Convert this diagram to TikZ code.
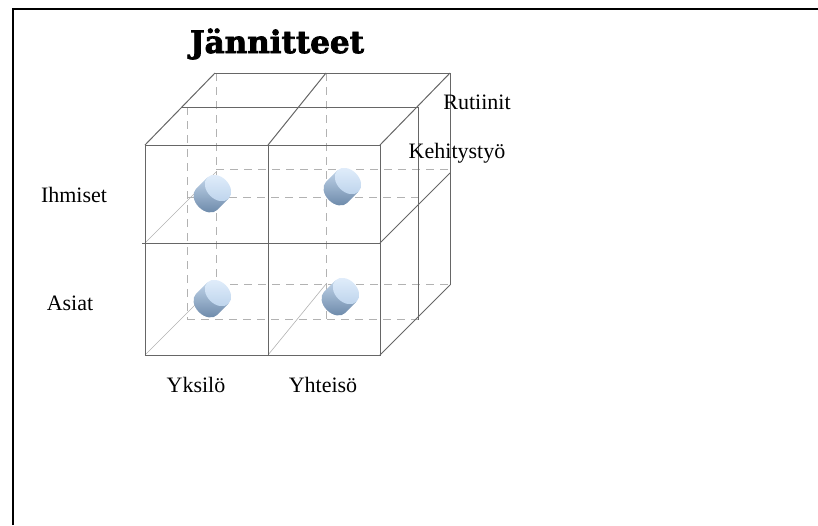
\documentclass[tikz,border=0pt]{standalone}
\usepackage{fontspec}
\setmainfont{Liberation Serif}
\newfontfamily\titlefont[FakeBold=2.5]{DejaVu Serif}
\definecolor{lidblue}{HTML}{E2EEFB}
\definecolor{lidshade}{HTML}{BCD3EC}
\definecolor{bodylight}{HTML}{BFD3E8}
\definecolor{bodydark}{HTML}{6A87A8}

% one cylinder, given by the centre of its top face
\newcommand{\drum}[2]{%
  \begin{scope}[shift={(#1,#2)}, x={(0.707pt,0.707pt)}, y={(-0.707pt,0.707pt)}]
    \path[drumbody] (0,15) -- (-16,15)
      arc[start angle=90, end angle=270, x radius=11, y radius=15]
      -- (0,-15) -- cycle;
    \path[drumlid] (0,0) ellipse[x radius=11, y radius=15];
  \end{scope}}

\begin{document}
\begin{tikzpicture}[
    x=1pt, y=-1pt,
    edge/.style={black!60, line width=1pt},
    hid/.style={black!30, line width=0.6pt},
    rear/.style={black!30, line width=1pt, dash pattern=on 8pt off 6pt},
    lbl/.style={anchor=base, font=\fontsize{22}{26}\selectfont},
    heading/.style={anchor=base, font=\fontsize{31}{36}\titlefont\bfseries},
    drumbody/.style={top color=bodylight, bottom color=bodydark},
    drumlid/.style={top color=lidblue, bottom color=lidshade},
]
\useasboundingbox (0,0) rectangle (818,525);
\draw[line width=2.5pt] (13,525) -- (13,9) -- (818,9);

% hidden edges at the back
\draw[hid] (145,355) -- (216,284);
\draw[hid] (145,243) -- (216,172);
\draw[hid] (268,355) -- (326,284);
\draw[rear] (187,107) -- (187,319);
\draw[rear] (216,73) -- (216,284);
\draw[rear] (326,73) -- (326,320);
\draw[rear] (216,169) -- (450,169);
\draw[rear] (187,197) -- (418,197);
\draw[rear] (216,284) -- (450,284);
\draw[rear] (187,319) -- (418,319);

\drum{218}{188}
\drum{348}{181}
\drum{218}{293}
\drum{346}{291}

% visible edges
\draw[edge] (145,145) rectangle (380,355);
\draw[edge] (268,145) -- (268,355);
\draw[edge] (142,243) -- (380,243);
\draw[edge] (182,107) -- (418,107);
\draw[edge] (215,73) -- (450,73);
\draw[edge] (145,145) -- (215,73);
\draw[edge] (268,145) -- (326,73);
\draw[edge] (380,145) -- (450,73);
\draw[edge] (418,107) -- (418,320);
\draw[edge] (450,73) -- (450,285);
\draw[edge] (380,243) -- (450,173);
\draw[edge] (380,355) -- (450,285);

\node[heading] (title) at (277,53) {Jännitteet};
\node[lbl] (rutiinit) at (477,109) {Rutiinit};
\node[lbl] (kehitys) at (457,158) {Kehitystyö};
\node[lbl] (ihmiset) at (74,202) {Ihmiset};
\node[lbl] (asiat) at (70,310) {Asiat};
\node[lbl] (yksilo) at (196,392) {Yksilö};
\node[lbl] (yhteiso) at (323,392) {Yhteisö};
\end{tikzpicture}
\end{document}
